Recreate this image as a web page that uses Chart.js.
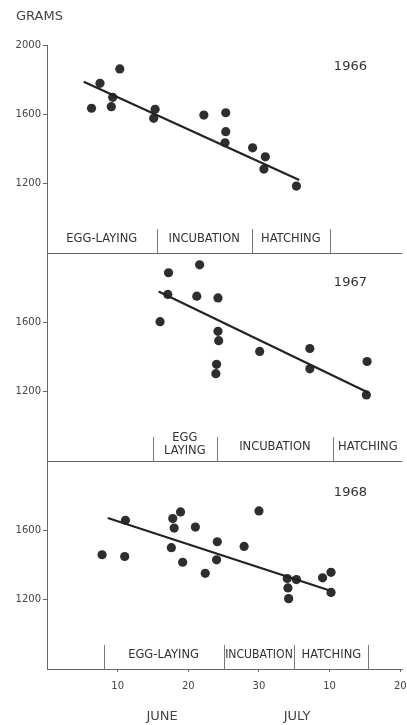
<!DOCTYPE html>
<html><head><meta charset="utf-8">
<script src="https://cdn.jsdelivr.net/npm/chart.js@4.4.0/dist/chart.umd.min.js"></script>
<style>html,body{margin:0;padding:0;background:#fff;overflow:hidden}#wrap{width:407px;height:725px;position:relative}</style>
</head><body><div id="wrap"><canvas id="c" width="407" height="725"></canvas></div>
<script>
// Day numbers: June d = d, July d = 30 + d
const xTickDays = [10, 20, 30, 40, 50];
const xTickLabels = ['10', '20', '30', '10', '20'];
const yTicksTop = [1200, 1600, 2000];
const yTicksOther = [1200, 1600];
const years = ['1966', '1967', '1968'];
const months = ['JUNE', 'JULY'];
const monthDays = [16.3, 35.4];

const days1966 = [6.3, 7.5, 10.3, 9.3, 9.1, 15.3, 15.1, 22.2, 25.3, 25.3, 25.2, 29.1, 30.9, 30.7, 35.3];
const grams1966 = [1635, 1779, 1862, 1698, 1644, 1629, 1577, 1596, 1609, 1500, 1436, 1407, 1355, 1284, 1186];
const trendDays1966 = [5.2, 35.7];
const trendGrams1966 = [1788, 1221];

const days1967 = [17.2, 21.6, 17.1, 21.2, 24.2, 16.0, 24.2, 24.3, 24.0, 23.9, 30.1, 37.2, 37.2, 45.3, 45.2];
const grams1967 = [1886, 1932, 1761, 1751, 1741, 1604, 1548, 1494, 1358, 1304, 1432, 1449, 1332, 1374, 1181];
const trendDays1967 = [15.8, 45.5];
const trendGrams1967 = [1778, 1194];

const days1968 = [7.8, 11.0, 11.1, 17.8, 18.9, 18.0, 21.0, 17.6, 19.2, 22.4, 24.1, 24.0, 27.9, 30.0, 34.0, 35.3, 34.1, 34.2, 39.0, 40.2, 40.2];
const grams1968 = [1459, 1449, 1658, 1668, 1706, 1613, 1619, 1500, 1416, 1352, 1534, 1430, 1507, 1712, 1322, 1316, 1268, 1206, 1326, 1358, 1242];
const trendDays1968 = [8.6, 39.8];
const trendGrams1968 = [1671, 1256];

// Phase edges (days, start of first phase .. end of last phase) and names per year
const phaseEdges1966 = [0, 15.5, 29, 40];
const phaseNames1966 = ['EGG-LAYING', 'INCUBATION', 'HATCHING'];
const phaseEdges1967 = [15, 24, 40.5, 50.3];
const phaseNames1967 = ['EGG\nLAYING', 'INCUBATION', 'HATCHING'];
const phaseEdges1968 = [8, 25, 35, 45.5];
const phaseNames1968 = ['EGG-LAYING', 'INCUBATION', 'HATCHING'];

const allDays = [days1966, days1967, days1968];
const allGrams = [grams1966, grams1967, grams1968];
const allTrendDays = [trendDays1966, trendDays1967, trendDays1968];
const allTrendGrams = [trendGrams1966, trendGrams1967, trendGrams1968];
const allEdges = [phaseEdges1966, phaseEdges1967, phaseEdges1968];
const allNames = [phaseNames1966, phaseNames1967, phaseNames1968];

const FONT = "'DejaVu Sans', sans-serif";
const INK = '#333';
const AXIS = '#666';

const datasets = [];
years.forEach((yr, i) => {
  const yID = 'y' + (i + 1);
  datasets.push({
    label: yr + ' trend', yAxisID: yID, showLine: true,
    data: allTrendDays[i].map((d, k) => ({x: d, y: allTrendGrams[i][k]})),
    borderColor: '#222', borderWidth: 2.2, pointRadius: 0, fill: false
  });
  datasets.push({
    label: yr, yAxisID: yID,
    data: allDays[i].map((d, k) => ({x: d, y: allGrams[i][k]})),
    backgroundColor: '#2e2e2e', borderWidth: 0, pointRadius: 4.6
  });
});

function yScale(ticks) {
  return {
    type: 'linear', position: 'left', stack: 'panels', stackWeight: 1,
    min: 800, max: 2000,
    afterBuildTicks: ax => { ax.ticks = ticks.map(v => ({value: v})); },
    afterFit: ax => { ax.width = 47; },
    ticks: { font: {family: FONT, size: 10}, color: '#444', padding: 2, callback: v => String(v) },
    grid: { drawOnChartArea: false, drawTicks: true, tickLength: 4, color: AXIS },
    border: { color: AXIS, width: 1 }
  };
}

const panelPlugin = {
  id: 'panels',
  afterDraw(chart) {
    const ctx = chart.ctx, xs = chart.scales.x, area = chart.chartArea;
    const yearOffsets = [22, 30, 32];
    ctx.save();
    ctx.fillStyle = '#444';
    ctx.font = '13px ' + FONT;
    ctx.textAlign = 'left'; ctx.textBaseline = 'middle';
    ctx.fillText('GRAMS', 16, 17);
    years.forEach((yr, i) => {
      const ys = chart.scales['y' + (i + 1)];
      const bottom = ys.bottom;
      if (i < 2) {
        ctx.strokeStyle = AXIS; ctx.lineWidth = 1;
        ctx.beginPath(); ctx.moveTo(area.left, Math.round(bottom) + 0.5);
        ctx.lineTo(area.right, Math.round(bottom) + 0.5); ctx.stroke();
      }
      ctx.fillStyle = INK; ctx.font = '13px ' + FONT;
      ctx.textAlign = 'center'; ctx.textBaseline = 'middle';
      ctx.fillText(yr, area.right - 52, ys.top + yearOffsets[i]);
      const edges = allEdges[i];
      ctx.strokeStyle = '#777'; ctx.lineWidth = 1;
      edges.forEach(d => {
        if (d <= xs.min || d >= xs.max) return;
        const px = Math.round(xs.getPixelForValue(d)) + 0.5;
        ctx.beginPath(); ctx.moveTo(px, bottom - 24); ctx.lineTo(px, bottom); ctx.stroke();
      });
      ctx.fillStyle = INK; ctx.font = '11.5px ' + FONT;
      allNames[i].forEach((name, k) => {
        const x0 = xs.getPixelForValue(edges[k]), x1 = xs.getPixelForValue(edges[k + 1]);
        const cx = (x0 + x1) / 2, maxW = x1 - x0 - 3;
        const lines = name.split('\n');
        const lh = 13;
        const cy = bottom - 14 - (lines.length - 1) * lh / 2 + (lines.length > 1 ? -2 : 0);
        lines.forEach((ln, j) => ctx.fillText(ln, cx, cy + j * lh, maxW));
      });
    });
    ctx.fillStyle = '#444'; ctx.font = '13px ' + FONT;
    months.forEach((m, k) => ctx.fillText(m, xs.getPixelForValue(monthDays[k]), 717));
    ctx.restore();
  }
};

new Chart(document.getElementById('c'), {
  type: 'scatter',
  data: { datasets },
  options: {
    responsive: false, animation: false, devicePixelRatio: 1,
    layout: { padding: { top: 45, left: 0, right: 4, bottom: 0 } },
    plugins: { legend: {display: false}, tooltip: {enabled: false} },
    scales: {
      x: {
        type: 'linear', min: 0, max: 50.3,
        afterBuildTicks: ax => { ax.ticks = xTickDays.map(v => ({value: v})); },
        afterFit: ax => { ax.height = 56; ax.paddingLeft = 0; ax.paddingRight = 0; },
        ticks: {
          callback: (v) => { const i = xTickDays.indexOf(v); return i >= 0 ? xTickLabels[i] : ''; },
          font: {family: FONT, size: 10}, color: '#444', padding: 8, maxRotation: 0, autoSkip: false
        },
        grid: { drawOnChartArea: false, drawTicks: true, tickLength: 3, color: AXIS },
        border: { color: AXIS, width: 1 }
      },
      y3: yScale(yTicksOther),
      y2: yScale(yTicksOther),
      y1: yScale(yTicksTop)
    }
  },
  plugins: [panelPlugin]
});
</script></body></html>
